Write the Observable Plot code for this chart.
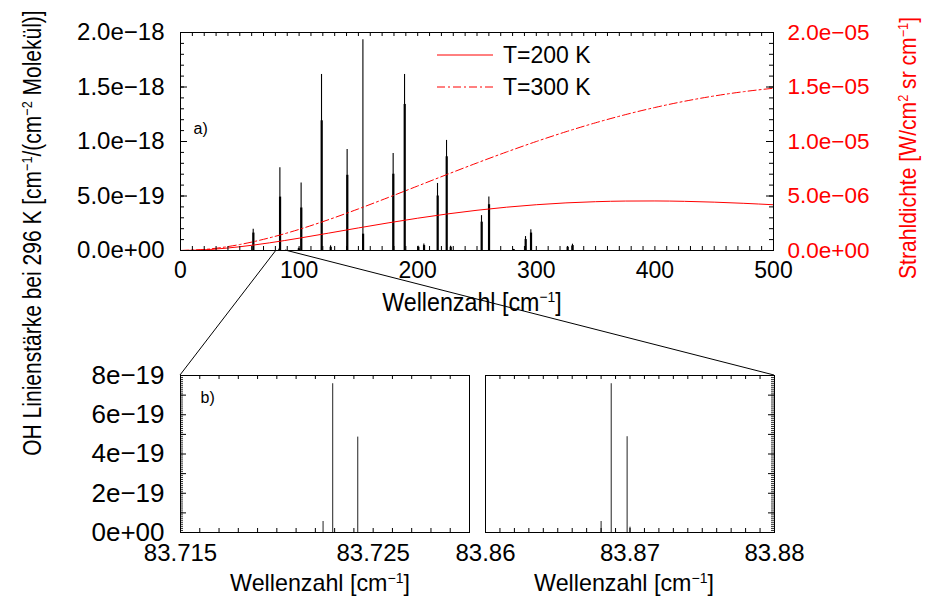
<!DOCTYPE html>
<html><head><meta charset="utf-8">
<script src="https://cdn.jsdelivr.net/npm/d3@7"></script>
<script src="https://cdn.jsdelivr.net/npm/@observablehq/plot@0.6"></script>
<style>
body{margin:0;background:#fff;font-family:"Liberation Sans",Arial,Helvetica,sans-serif;}
#fig{position:relative;width:925px;height:600px;overflow:hidden;background:#fff;}
#fig > *{position:absolute;left:0;top:0;}
.title{white-space:nowrap;font-size:24px;line-height:1;color:#000;}
.title sup{font-size:60%;vertical-align:0.55em;line-height:0;}
.legend{font-size:23px;line-height:1;}
.legend .row{display:flex;align-items:center;height:32px;}
.legend svg{margin-right:10px;}
</style></head><body><div id="fig"></div>
<script>
// ---------------- data ----------------
// panel a) line positions (cm^-1) and line strengths (cm^-1/(cm^-2 molecule))
const peakNu     = [61.3, 83.8, 101.7, 118.9, 140.5, 153.8, 179.3, 188.9, 216.7, 224.3, 253.8, 260.0, 290.9, 295.4, 326.3, 330.5, 126.5, 200.4, 205.2, 227.7, 280.8, 99.6, 83.3];
const peakStrong = [1.95e-19, 7.6e-19, 6.2e-19, 1.615e-18, 9.27e-19, 1.933e-18, 8.9e-19, 1.615e-18, 6.15e-19, 1.01e-18, 3.2e-19, 4.9e-19, 1.28e-19, 1.9e-19, 3.7e-20, 5.8e-20, 4.3e-20, 4.0e-20, 6.0e-20, 4.0e-20, 1.0e-20, 2.0e-20, 1.5e-20];
const peakWeak   = [1.6e-19, 4.9e-19, 3.9e-19, 1.19e-18, 6.9e-19, 1.5e-19, 7.0e-19, 1.34e-18, 5.0e-19, 8.6e-19, 2.6e-19, 4.2e-19, 1.0e-19, 1.6e-19, 3.0e-20, 4.5e-20, 3.0e-20, 3.0e-20, 4.5e-20, 3.0e-20, 0.8e-20, 1.5e-20, 1.0e-20];
// radiance curves (W/(cm^2 sr cm^-1))
const planckNu = [0, 25, 50, 75, 100, 125, 150, 175, 200, 225, 250, 275, 300, 325, 350, 375, 400, 425, 450, 475, 500];
const rad200 = [0, 0.094e-6, 0.344e-6, 0.702e-6, 1.131e-6, 1.596e-6, 2.070e-6, 2.531e-6, 2.963e-6, 3.353e-6, 3.692e-6, 3.975e-6, 4.200e-6, 4.368e-6, 4.478e-6, 4.536e-6, 4.545e-6, 4.510e-6, 4.436e-6, 4.329e-6, 4.195e-6];
const rad300 = [0, 0.146e-6, 0.549e-6, 1.161e-6, 1.935e-6, 2.833e-6, 3.817e-6, 4.855e-6, 5.919e-6, 6.986e-6, 8.032e-6, 9.041e-6, 10.000e-6, 10.895e-6, 11.717e-6, 12.460e-6, 13.119e-6, 13.692e-6, 14.177e-6, 14.574e-6, 14.886e-6];
const seriesNames = ["T=200 K", "T=300 K"];
// panel b) zoomed lines
const zoomLeftNu  = [83.7224, 83.7229, 83.7242];
const zoomLeftS   = [0.56e-19, 7.58e-19, 4.86e-19];
const zoomRightNu = [83.8680, 83.8687, 83.8698, 83.8700];
const zoomRightS  = [0.56e-19, 7.58e-19, 4.88e-19, 0.27e-19];
// zoom connector origin on panel a) axis
const zoomFromNu = [81, 88.6];
// tick labels
const topXTicks = [0, 100, 200, 300, 400, 500];
const topYTicks = [0, 5e-19, 1e-18, 1.5e-18, 2e-18];
const botYTicks = [0, 2e-19, 4e-19, 6e-19, 8e-19];
const leftXTicks = [83.715, 83.725];
const rightXTicks = [83.86, 83.87, 83.88];
const leftDomain = [83.715, 83.730];
const rightDomain = [83.86, 83.88];

// ---------------- helpers ----------------
const FONT = '"Liberation Sans", Arial, Helvetica, sans-serif';
const K = 1e-13; // right axis (radiance) -> left axis (line strength)
function sci(v, digits) {
  if (Math.abs(v) < 1e-40) return (digits ? "0." + "0".repeat(digits) : "0") + "e+00";
  let [m, e] = v.toExponential(digits).split("e");
  const sign = e[0] === "-" ? "\u2212" : "+";
  return m + "e" + sign + e.slice(1).padStart(2, "0");
}
const fig = document.getElementById("fig");
const baseStyle = {fontFamily: FONT, background: "transparent", overflow: "visible", color: "black"};

// ---------------- panel a) ----------------
const W = 925, H = 600, mL = 180, mR = 152, mT = 32, mB = 350;
const iw = W - mL - mR, ih = H - mT - mB;
const peaksMain = peakNu.map((nu, i) => ({nu, s: peakStrong[i]}));
const peaksSub = peakNu.map((nu, i) => ({nu: nu + 0.15, s: peakWeak[i]}));
const curves = planckNu.flatMap((nu, i) => [{nu, r: rad200[i], T: seriesNames[0]}, {nu, r: rad300[i], T: seriesNames[1]}]);
const xMinor = d3.range(0, 51).map(i => i * 10);
const yMinor = d3.range(0, 21).map(i => i * 1e-19);

const topPlot = Plot.plot({
  width: W, height: H, marginLeft: mL, marginRight: mR, marginTop: mT, marginBottom: mB,
  style: baseStyle,
  x: {domain: [0, 500]},
  y: {domain: [0, 2e-18]},
  marks: [
    Plot.ruleX(peaksSub, {x: "nu", y1: 0, y2: "s", stroke: "black", strokeWidth: 2.2}),
    Plot.ruleX(peaksMain, {x: "nu", y1: 0, y2: "s", stroke: "black", strokeWidth: 1.1}),
    Plot.line(curves.filter(d => d.T === seriesNames[0]), {x: "nu", y: d => d.r * K, stroke: "red", strokeWidth: 1, curve: "monotone-x"}),
    Plot.line(curves.filter(d => d.T === seriesNames[1]), {x: "nu", y: d => d.r * K, stroke: "red", strokeWidth: 1, strokeDasharray: "8,3,2,3", curve: "monotone-x"}),
    Plot.tickX(xMinor, {x: d => d, insetTop: ih - 4, stroke: "black"}),
    Plot.tickX(xMinor, {x: d => d, insetBottom: ih - 4, stroke: "black"}),
    Plot.tickY(yMinor, {y: d => d, insetRight: iw - 4, stroke: "black"}),
    Plot.tickY(topYTicks, {y: d => d, insetRight: iw - 7, stroke: "black"}),
    Plot.tickY(yMinor, {y: d => d, insetLeft: iw - 4, stroke: "black"}),
    Plot.tickY(topYTicks, {y: d => d, insetLeft: iw - 7, stroke: "black"}),
    Plot.frame({stroke: "black"}),
    Plot.axisX(topXTicks, {tickSize: 0, tickPadding: 11, fontSize: 23, label: null, fill: "black"}),
    Plot.axisY(topYTicks, {anchor: "left", tickSize: 0, tickPadding: 16, fontSize: 24, tickFormat: d => sci(d, 1), label: null, fill: "black"}),
    Plot.axisY(topYTicks, {anchor: "right", tickSize: 0, tickPadding: 14, fontSize: 22.5, tickFormat: d => sci(d / K, 1), label: null, fill: "red"}),
    Plot.text(["a)"], {frameAnchor: "top-left", dx: 13, dy: 90, fontSize: 16, fill: "black"})
  ]
});
fig.appendChild(topPlot);

// ---------------- panel b) ----------------
function zoomPlot(domain, nus, ss, xTicks, xFmt, side, showY) {
  const w = 400, h = 240;
  const ml = side === "left" ? 90 : 20, mr = side === "left" ? 21 : 91, mt = 35, mb = 48;
  const fw = w - ml - mr, fh = h - mt - mb;
  const step = 0.001;
  const n = Math.round((domain[1] - domain[0]) / step);
  const xm = d3.range(0, n + 1).map(i => domain[0] + i * step);
  const ym = d3.range(0, 81).map(i => i * 1e-20);
  const lines = nus.map((nu, i) => ({nu, s: ss[i]}));
  const marks = [
    Plot.ruleX(lines, {x: "nu", y1: 0, y2: "s", stroke: "#222", strokeWidth: 1}),
    Plot.tickX(xm, {x: d => d, insetTop: fh - 4, stroke: "black"}),
    Plot.tickX(xm, {x: d => d, insetBottom: fh - 4, stroke: "black"}),
    side === "left"
      ? Plot.tickY(ym, {y: d => d, insetRight: fw - 3, stroke: "black", strokeWidth: 0.8})
      : Plot.tickY(ym, {y: d => d, insetLeft: fw - 3, stroke: "black", strokeWidth: 0.8}),
    side === "left"
      ? Plot.tickY(d3.range(0, 9).map(i => i * 1e-19), {y: d => d, insetRight: fw - 6, stroke: "black"})
      : Plot.tickY(d3.range(0, 9).map(i => i * 1e-19), {y: d => d, insetLeft: fw - 6, stroke: "black"}),
    Plot.frame({stroke: "black"}),
    Plot.axisX(xTicks, {tickSize: 0, tickPadding: 11, fontSize: 24, tickFormat: xFmt, label: null, fill: "black"})
  ];
  if (showY) {
    marks.push(Plot.axisY(botYTicks, {anchor: "left", tickSize: 0, tickPadding: 16, fontSize: 26, tickFormat: d => sci(d, 0), label: null, fill: "black"}));
    marks.push(Plot.text(["b)"], {frameAnchor: "top-left", dx: 20, dy: 16, fontSize: 16, fill: "black"}));
  }
  return Plot.plot({
    width: w, height: h, marginLeft: ml, marginRight: mr, marginTop: mt, marginBottom: mb,
    style: baseStyle,
    x: {domain},
    y: {domain: [0, 8e-19], axis: showY ? undefined : null},
    marks
  });
}
const LX = 90, LY = 340, RX = 465, RY = 340;
const leftPlot = zoomPlot(leftDomain, zoomLeftNu, zoomLeftS, leftXTicks, d => d.toFixed(3), "left", true);
const rightPlot = zoomPlot(rightDomain, zoomRightNu, zoomRightS, rightXTicks, d => d.toFixed(2), "right", false);
leftPlot.style.left = LX + "px"; leftPlot.style.top = LY + "px";
rightPlot.style.left = RX + "px"; rightPlot.style.top = RY + "px";

// connectors from panel a) axis to panel b) frames
const tx = topPlot.scale("x"), ty = topPlot.scale("y");
const lxs = leftPlot.scale("x"), lys = leftPlot.scale("y");
const rxs = rightPlot.scale("x"), rys = rightPlot.scale("y");
const conn = d3.create("svg").attr("width", W).attr("height", H).style("position", "absolute").style("left", 0).style("top", 0);
const links = [
  [tx.apply(zoomFromNu[0]), ty.apply(0), LX + lxs.apply(leftDomain[0]), LY + lys.apply(8e-19)],
  [tx.apply(zoomFromNu[1]), ty.apply(0), RX + rxs.apply(rightDomain[1]), RY + rys.apply(8e-19)]
];
conn.selectAll("line").data(links).join("line")
  .attr("x1", d => d[0]).attr("y1", d => d[1]).attr("x2", d => d[2]).attr("y2", d => d[3])
  .attr("stroke", "black").attr("stroke-width", 1);
fig.appendChild(conn.node());
fig.appendChild(leftPlot);
fig.appendChild(rightPlot);

// ---------------- titles ----------------
// condensed glyphs: scale along the text direction
function title(html, x, y, rot, color, size, squeeze) {
  const d = document.createElement("div");
  d.className = "title";
  d.innerHTML = html;
  d.style.left = x + "px"; d.style.top = y + "px";
  d.style.transform = "translate(-50%,-50%)" + (rot ? " rotate(-90deg)" : "") + " scaleX(" + (squeeze || 1) + ")";
  if (color) d.style.color = color;
  if (size) d.style.fontSize = size + "px";
  fig.appendChild(d);
}
const wz = "Wellenzahl [cm<sup>\u22121</sup>]";
title(wz, 472, 302, false, null, 25, 0.93);
title(wz, 320, 583, false, null, 24, 0.97);
title(wz, 624, 583, false, null, 24, 0.97);
title("OH Linienst\u00e4rke bei 296 K [cm<sup>\u22121</sup>/(cm<sup>\u22122</sup> Molek\u00fcl)]", 32, 233, true, null, 25, 0.84);
title("Strahldichte [W/cm<sup>2</sup> sr cm<sup>\u22121</sup>]", 908, 148, true, "red", 24, 0.88);

// ---------------- legend ----------------
const lg = document.createElement("div");
lg.className = "legend";
lg.style.left = "437px"; lg.style.top = "39px";
seriesNames.forEach((name, i) => {
  const row = document.createElement("div");
  row.className = "row";
  const s = d3.create("svg").attr("width", 56).attr("height", 4);
  s.append("line").attr("x1", 0).attr("x2", 56).attr("y1", 2).attr("y2", 2)
    .attr("stroke", "red").attr("stroke-width", 1).attr("stroke-dasharray", i ? "8,3,2,3" : null);
  row.appendChild(s.node());
  const t = document.createElement("span");
  t.textContent = name;
  row.appendChild(t);
  lg.appendChild(row);
});
fig.appendChild(lg);
</script></body></html>
